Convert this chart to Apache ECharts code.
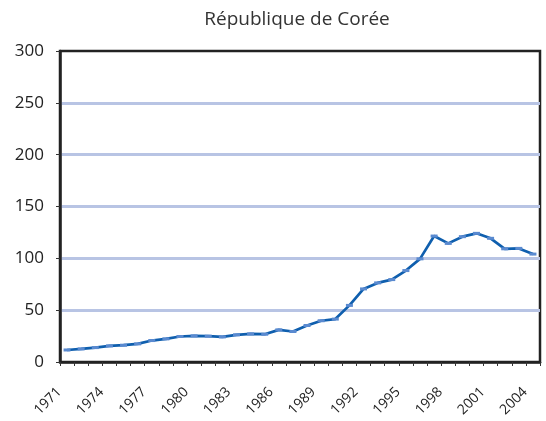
<!DOCTYPE html>
<html>
<head>
<meta charset="utf-8">
<script src="https://cdn.jsdelivr.net/npm/echarts@6/dist/echarts.min.js"></script>
<style>
  html, body { margin: 0; padding: 0; background: #fff; }
  #chart { width: 546px; height: 421px; }
</style>
</head>
<body>
<div id="chart"></div>
<script>
// République de Corée, 1971-2004
var years = [
  '1971', '1972', '1973', '1974', '1975', '1976', '1977', '1978', '1979', '1980',
  '1981', '1982', '1983', '1984', '1985', '1986', '1987', '1988', '1989', '1990',
  '1991', '1992', '1993', '1994', '1995', '1996', '1997', '1998', '1999', '2000',
  '2001', '2002', '2003', '2004'
]
var values = [
  11.6, 12.6, 13.9, 15.5, 16.2, 17.5, 20.7, 22.3, 24.6, 25.2,
  24.9, 24.2, 26.2, 27.1, 26.8, 31.0, 29.4, 35.2, 39.8, 41.4,
  54.6, 70.5, 76.3, 79.5, 88.2, 99.5, 121.5, 114.4, 120.9, 124.1,
  119.3, 109.2, 109.6, 104.1
]
var yTicks = [0, 50, 100, 150, 200, 250, 300]

var chart = echarts.init(document.getElementById('chart'))

chart.setOption({
  animation: false,
  title: {
    text: 'République de Corée',
    left: 292,
    textAlign: 'center',
    top: 5,
    textStyle: {
      fontFamily: 'Open Sans',
      fontWeight: 'normal',
      fontSize: 19,
      color: '#333'
    }
  },
  grid: {
    left: 60,
    right: 6,
    top: 51,
    bottom: 59,
    show: true,
    borderColor: '#222',
    borderWidth: 2.5
  },
  xAxis: {
    type: 'category',
    data: years,
    boundaryGap: true,
    axisLine: { show: true, lineStyle: { color: '#222', width: 2.5 } },
    axisTick: {
      show: true,
      interval: 0,
      length: 4,
      lineStyle: { color: '#333' }
    },
    axisLabel: {
      interval: 2,
      rotate: 45,
      margin: 20,
      fontFamily: 'Open Sans',
      fontSize: 14,
      color: '#222',
      padding: [0, 11, 0, 0]
    }
  },
  yAxis: {
    type: 'value',
    min: yTicks[0],
    max: yTicks[yTicks.length - 1],
    interval: 50,
    axisLine: { show: true, lineStyle: { color: '#222', width: 2.5 } },
    axisTick: {
      show: true,
      length: 4,
      lineStyle: { color: '#333' }
    },
    axisLabel: {
      margin: 16,
      fontFamily: 'Open Sans',
      fontSize: 17,
      color: '#222'
    },
    splitLine: {
      showMinLine: false,
      showMaxLine: false,
      lineStyle: { color: '#b8c4e4', width: 3 }
    }
  },
  series: [
    {
      type: 'line',
      data: values,
      symbol: 'rect',
      symbolSize: [7, 3],
      itemStyle: {
        color: '#5a8ad0'
      },
      lineStyle: {
        color: '#0f5fae',
        width: 2.7
      }
    }
  ]
})
</script>
</body>
</html>
